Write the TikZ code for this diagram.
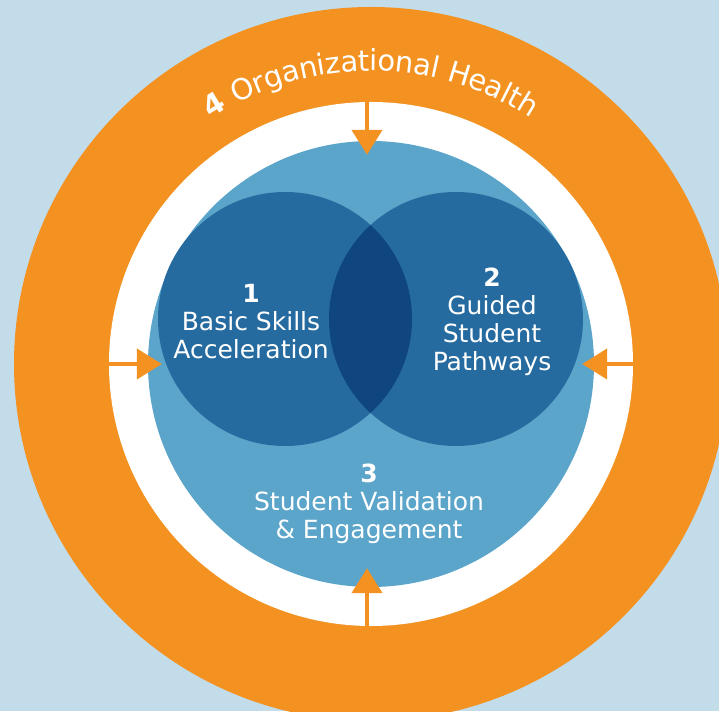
\documentclass[tikz,border=0pt]{standalone}
\usepackage{fontspec}
\setmainfont{DejaVu Sans}
\usetikzlibrary{arrows.meta,decorations.text}
\definecolor{sky}{HTML}{C3DCEA}
\definecolor{orangeband}{HTML}{F39220}
\definecolor{poolblue}{HTML}{5BA4CA}
\definecolor{deepblue}{HTML}{266BA0}
\definecolor{navyblue}{HTML}{10467F}

\begin{document}
\begin{tikzpicture}[x=1pt,y=1pt,
  disc/.style={circle,inner sep=0pt},
  pillar/.style={text=white,align=center,font=\fontsize{25}{28}\selectfont},
  inarrow/.style={orangeband,line width=4.5pt,-{Triangle[length=25pt,width=30pt]}}]
\useasboundingbox (-371,-347) rectangle (348,364);
\clip (-371,-347) rectangle (348,364);
\fill[sky] (-371,-347) rectangle (348,364);
% rings
\node[disc,fill=orangeband,minimum size=714pt] (org) at (0,0) {};
\node[disc,fill=white,minimum size=524pt] (gap) at (0,0) {};
\node[disc,fill=poolblue,minimum size=446pt] (valid) at (0,0) {};
\node[disc,fill=deepblue,minimum size=254pt] (basic) at (-86,45) {};
\node[disc,fill=deepblue,minimum size=254pt] (guided) at (85,45) {};
\begin{scope}
\clip (basic.center) circle (127);
\fill[navyblue] (guided.center) circle (127);
\end{scope}
% arrows into the middle
\draw[inarrow] ([xshift=-4pt]gap.north) -- ([xshift=-4pt,yshift=-14pt]valid.north);
\draw[inarrow] ([xshift=-4pt]gap.south) -- ([xshift=-4pt,yshift=19pt]valid.south);
\draw[inarrow] (gap.west) -- ([xshift=14pt]valid.west);
\draw[inarrow] (gap.east) -- ([xshift=-12pt]valid.east);
% labels
\node[pillar] (one) at (-120,42.6) {\textbf{1}\\Basic Skills\\Acceleration};
\node[pillar] (two) at (121,42.5) {\textbf{2}\\Guided\\Student\\Pathways};
\node[pillar] (three) at (-2,-139.5) {\textbf{3}\\Student Validation\\\& Engagement};
\path[decorate,decoration={text along path,text align=center,raise=-7pt,
  text={|\fontsize{29}{32}\selectfont\bfseries\color{white}|4 |\fontsize{29}{32}\selectfont\color{white}|Organizational Health}}]
  (-300,0) arc[start angle=180,end angle=0,radius=300];
\end{tikzpicture}
\end{document}
